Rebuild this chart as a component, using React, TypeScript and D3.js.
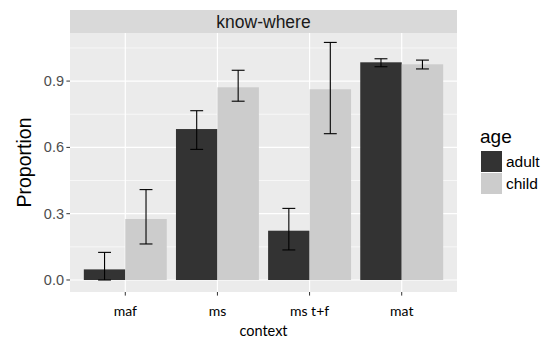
import React from "react";
import * as d3 from "d3";

const contexts = ["maf", "ms", "ms t+f", "mat"];
const ages = ["adult", "child"];
const adultMean = [0.048, 0.683, 0.223, 0.985];
const adultLow = [0.0, 0.591, 0.136, 0.965];
const adultHigh = [0.125, 0.766, 0.324, 1.001];
const childMean = [0.276, 0.872, 0.863, 0.976];
const childLow = [0.163, 0.809, 0.662, 0.955];
const childHigh = [0.409, 0.949, 1.075, 0.995];
const yTicks = [0, 0.3, 0.6, 0.9];
const yMinor = [0.15, 0.45, 0.75, 1.05];
const fills = ["#333333", "#CCCCCC"];

const W = 544, H = 341;
const pL = 70, pR = 457, pT = 33, pB = 292;
const stripTop = 10;

export default function App() {
  // ggplot discrete expansion: category centers at i+1 within [0.4, n+0.6]
  const xc = d3.scaleLinear().domain([0.4, contexts.length + 0.6]).range([pL, pR]);
  const y = d3.scaleLinear().domain([-0.0543, 1.1176]).range([pB, pT]);
  const barW = xc(1.45) - xc(1);
  const capW = xc(1.14) - xc(1);

  const series = [
    { mean: adultMean, low: adultLow, high: adultHigh },
    { mean: childMean, low: childLow, high: childHigh },
  ];

  const font = "'Liberation Sans', Arial, Helvetica, sans-serif";
  const font2 = "Lato, 'Open Sans', sans-serif";

  return (
    <svg width={W} height={H} style={{ position: "absolute", left: 0, top: 0 }}>
      <rect x={0} y={0} width={W} height={H} fill="#FFFFFF" />
      {/* strip */}
      <rect x={pL} y={stripTop} width={pR - pL} height={pT - stripTop} fill="#D9D9D9" />
      <text x={(pL + pR) / 2} y={(stripTop + pT) / 2 + 6} textAnchor="middle" fontFamily={font} fontSize={17.5} fill="#1A1A1A">know-where</text>
      {/* panel */}
      <rect x={pL} y={pT} width={pR - pL} height={pB - pT} fill="#EBEBEB" />
      {yMinor.map((t) => (
        <line key={"mn" + t} x1={pL} x2={pR} y1={y(t)} y2={y(t)} stroke="#FFFFFF" strokeWidth={0.6} />
      ))}
      {yTicks.map((t) => (
        <line key={"mj" + t} x1={pL} x2={pR} y1={y(t)} y2={y(t)} stroke="#FFFFFF" strokeWidth={1.2} />
      ))}
      {contexts.map((c, i) => (
        <line key={"vx" + c} x1={xc(i + 1)} x2={xc(i + 1)} y1={pT} y2={pB} stroke="#FFFFFF" strokeWidth={1.2} />
      ))}
      {/* bars */}
      {series.map((s, si) =>
        contexts.map((c, i) => {
          const x0 = xc(i + 1) - barW + si * barW;
          return (
            <rect key={"b" + si + c} x={x0} y={y(s.mean[i])} width={barW} height={y(0) - y(s.mean[i])} fill={fills[si]} />
          );
        })
      )}
      {/* error bars */}
      {series.map((s, si) =>
        contexts.map((c, i) => {
          const cx = xc(i + 1) - barW / 2 + si * barW;
          return (
            <g key={"e" + si + c} stroke="#000000" strokeWidth={1.1} fill="none">
              <line x1={cx} x2={cx} y1={y(s.low[i])} y2={y(s.high[i])} />
              <line x1={cx - capW / 2} x2={cx + capW / 2} y1={y(s.low[i])} y2={y(s.low[i])} />
              <line x1={cx - capW / 2} x2={cx + capW / 2} y1={y(s.high[i])} y2={y(s.high[i])} />
            </g>
          );
        })
      )}
      {/* y axis */}
      {yTicks.map((t) => (
        <g key={"yt" + t}>
          <line x1={pL - 3.6} x2={pL} y1={y(t)} y2={y(t)} stroke="#333333" strokeWidth={1} />
          <text x={pL - 6} y={y(t) + 5} textAnchor="end" fontFamily={font} fontSize={14.5} fill="#4D4D4D">{t.toFixed(1)}</text>
        </g>
      ))}
      {/* x axis */}
      {contexts.map((c, i) => (
        <g key={"xt" + c}>
          <line x1={xc(i + 1)} x2={xc(i + 1)} y1={pB} y2={pB + 3.6} stroke="#333333" strokeWidth={1} />
          <text x={xc(i + 1)} y={316} textAnchor="middle" fontFamily={font2} fontSize={14} fill="#000000">{c}</text>
        </g>
      ))}
      <text x={(pL + pR) / 2} y={336} textAnchor="middle" fontFamily={font2} fontSize={14.5} fill="#000000">context</text>
      <text transform={`translate(31,${(pT + pB) / 2}) rotate(-90)`} textAnchor="middle" fontFamily={font} fontSize={19.5} fill="#000000">Proportion</text>
      {/* legend */}
      <text x={480} y={143} fontFamily={font} fontSize={19} fill="#000000">age</text>
      {ages.map((a, i) => (
        <g key={"lg" + a}>
          <rect x={481} y={151 + i * 22} width={21} height={21} fill={fills[i]} />
          <text x={506} y={151 + i * 22 + 16} fontFamily={font} fontSize={15.5} fill="#000000">{a}</text>
        </g>
      ))}
    </svg>
  );
}
